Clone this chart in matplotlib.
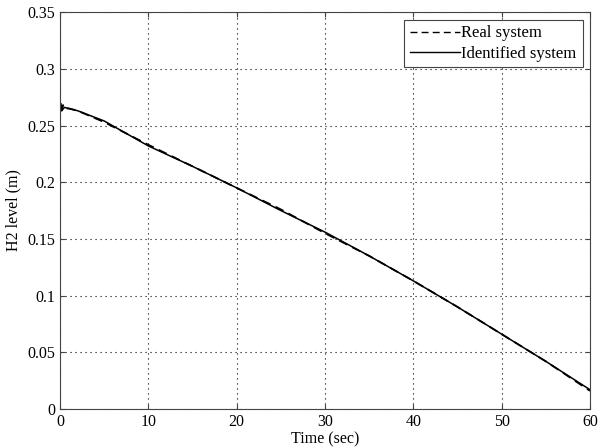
import numpy as np
from matplotlib import pyplot as plt

plt.rcParams['font.family'] = ['Liberation Serif', 'DejaVu Serif']

# time (sec) and H2 level (m)
t_real = [0, 0.1, 0.2, 0.35, 0.5, 1, 2, 5, 10, 15, 20, 25, 30, 35, 40, 45, 50, 55, 60]
h_real = [0.262, 0.270, 0.263, 0.268, 0.265, 0.265, 0.263, 0.253, 0.233, 0.214, 0.195, 0.176,
          0.155, 0.135, 0.113, 0.090, 0.066, 0.042, 0.016]
t_ident = [0, 0.15, 0.3, 0.5, 1, 2, 5, 10, 15, 20, 25, 30, 35, 40, 45, 50, 55, 60]
h_ident = [0.266, 0.268, 0.264, 0.266, 0.265, 0.263, 0.254, 0.232, 0.214, 0.195, 0.175,
           0.156, 0.135, 0.113, 0.090, 0.066, 0.042, 0.017]

fig = plt.figure(figsize=(6.03, 4.48), dpi=100)
ax = fig.add_axes([0.0995, 0.087, 0.879, 0.886])
ax.plot(t_real, h_real, color='k', ls=(0, (5, 3)), lw=1.3, label='Real system')
ax.plot(t_ident, h_ident, 'k-', lw=1.1, label='Identified system')

ax.set_xlim(0, 60)
ax.set_ylim(0, 0.35)
ax.set_xticks(np.arange(0, 61, 10))
ax.set_yticks(np.arange(0, 0.351, 0.05))
ax.set_yticklabels(['0', '0.05', '0.1', '0.15', '0.2', '0.25', '0.3', '0.35'])
ax.grid(True, linestyle=(0, (1, 3.5)), color='k', lw=0.8)
ax.tick_params(direction='in', top=True, right=True, labelsize=11.5, color='#444444')
for s in ax.spines.values():
    s.set_color('#444444')
ax.set_xlabel('Time (sec)', fontsize=11.5, labelpad=1)
ax.set_ylabel('H2 level (m)', fontsize=11.5)

leg = ax.legend(loc='upper right', fontsize=12, fancybox=False, framealpha=1,
                edgecolor='#444444', handlelength=3.0, handletextpad=0.1,
                borderaxespad=0.45, borderpad=0.35, labelspacing=0.25)
leg.get_frame().set_linewidth(0.8)
for line in leg.get_lines():
    line.set_linewidth(1.0)

fig.savefig('out.png', dpi=100)
